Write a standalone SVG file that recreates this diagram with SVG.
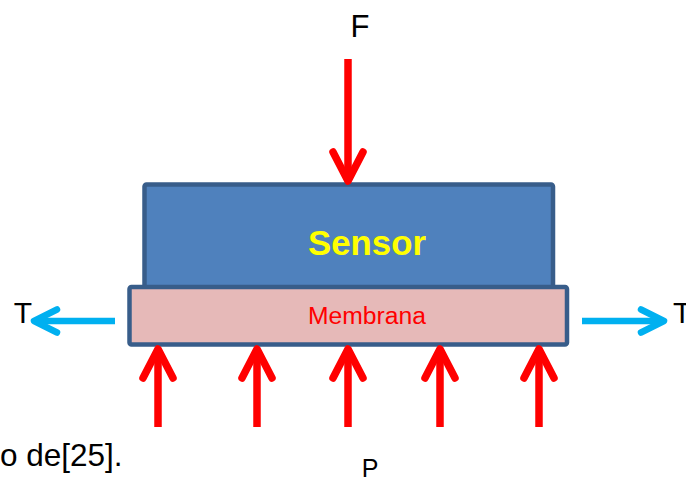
<svg xmlns="http://www.w3.org/2000/svg" width="686" height="482" viewBox="0 0 686 482">
<style>
.lbl{font-family:"Liberation Sans",Arial,sans-serif;fill:#000}
.red{fill:none;stroke:#ff0000;stroke-width:7.5;stroke-linecap:round;stroke-linejoin:round}
.red line{stroke-linecap:butt}
.blue{fill:none;stroke:#00b0f0;stroke-width:6.5;stroke-linecap:round;stroke-linejoin:round}
.blue line{stroke-linecap:butt}
</style>
<rect width="686" height="482" fill="#fff"/>
<g id="sensor">
<rect x="144.5" y="184.5" width="408.5" height="104" rx="2" fill="#4f81bd" stroke="#385d8a" stroke-width="4.5"/>
<text x="367" y="255" text-anchor="middle" font-family="'Liberation Sans',Arial,sans-serif" font-weight="bold" font-size="35" fill="#ffff00" textLength="118" lengthAdjust="spacingAndGlyphs">Sensor</text>
</g>
<g id="membrana">
<rect x="129.5" y="287" width="437.5" height="57.5" rx="2" fill="#e6b9b8" stroke="#385d8a" stroke-width="4.5"/>
<text x="367" y="324" text-anchor="middle" font-family="'Liberation Sans',Arial,sans-serif" font-size="23" fill="#ff0000" textLength="118" lengthAdjust="spacingAndGlyphs">Membrana</text>
</g>
<g id="labels">
<text class="lbl" x="360" y="37" text-anchor="middle" font-size="31">F</text>
<text class="lbl" x="23" y="323" text-anchor="middle" font-size="30">T</text>
<text class="lbl" x="673" y="323" font-size="30">T</text>
<text class="lbl" x="370" y="477" text-anchor="middle" font-size="25">P</text>
<text class="lbl" x="0" y="466" font-size="31.5">o de[25].</text>
</g>
<g id="connectors">
<g class="red">
<line x1="348" y1="59" x2="348" y2="180"/>
<polyline points="333,152 348,181 363,152"/>
<line x1="158" y1="427" x2="158" y2="350"/>
<polyline points="143,378 158,349 173,378"/>
<line x1="257" y1="427" x2="257" y2="350"/>
<polyline points="242,378 257,349 272,378"/>
<line x1="348" y1="427" x2="348" y2="350"/>
<polyline points="333,378 348,349 363,378"/>
<line x1="440" y1="427" x2="440" y2="350"/>
<polyline points="425,378 440,349 455,378"/>
<line x1="539" y1="427" x2="539" y2="350"/>
<polyline points="524,378 539,349 554,378"/>
</g>
<g class="blue">
<line x1="115" y1="321" x2="36" y2="321"/>
<polyline points="57,309.5 34,321 57,332.5"/>
<line x1="582" y1="321" x2="662" y2="321"/>
<polyline points="641,309.5 664,321 641,332.5"/>
</g>
</g>
</svg>
